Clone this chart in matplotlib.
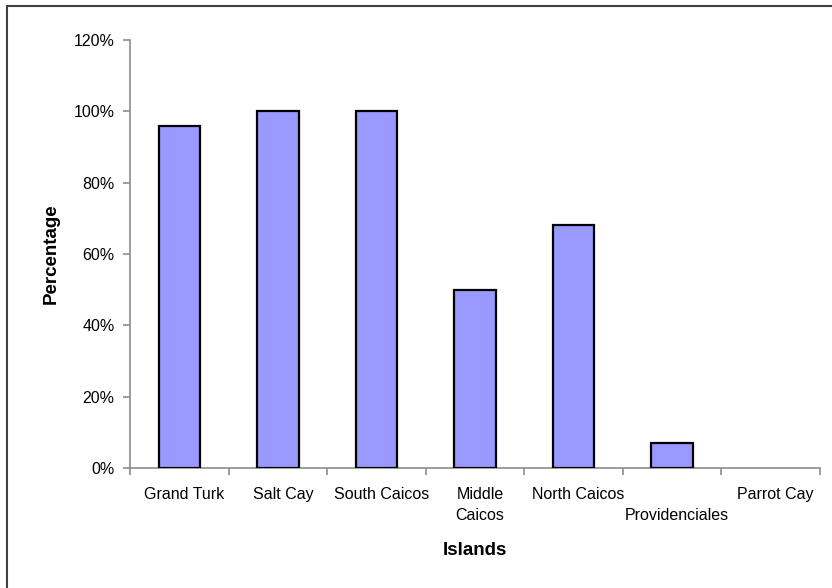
import matplotlib
matplotlib.use("Agg")
import matplotlib.pyplot as plt
from matplotlib.patches import Rectangle
from matplotlib.transforms import ScaledTranslation
import numpy as np

plt.rcParams['font.family'] = ['Liberation Sans', 'DejaVu Sans']

islands = ["Grand Turk", "Salt Cay", "South Caicos", "Middle\nCaicos",
           "North Caicos", "\nProvidenciales", "Parrot Cay"]
percentages = [0.96, 1.00, 1.00, 0.50, 0.68, 0.07, 0.0]
y_ticks = [0.0, 0.2, 0.4, 0.6, 0.8, 1.0, 1.2]
y_tick_labels = ["0%", "20%", "40%", "60%", "80%", "100%", "120%"]

fig = plt.figure(figsize=(8.32, 5.88), dpi=100)
ax = fig.add_axes([130 / 832, 1 - 468 / 588, 690 / 832, 428 / 588])

x = np.arange(len(islands))
edge_widths = [1.6 if v > 0 else 0 for v in percentages]
ax.bar(x, percentages, width=0.42, color="#9999FF", edgecolor="black",
       linewidth=edge_widths, zorder=3)

ax.set_xlim(-0.5, len(islands) - 0.5)
ax.set_ylim(0, 1.2)

gray = "#8c8c8c"
for side in ("top", "right"):
    ax.spines[side].set_visible(False)
for side in ("left", "bottom"):
    ax.spines[side].set_color(gray)
    ax.spines[side].set_linewidth(1.2)

ax.set_yticks(y_ticks)
ax.set_yticklabels(y_tick_labels, fontsize=11.5)
ax.tick_params(axis="y", direction="out", length=5, width=1.2, color=gray, pad=6)

# category boundaries carry the tick marks; labels sit at the centres
ax.set_xticks(np.arange(len(islands) + 1) - 0.5)
ax.set_xticklabels([])
ax.tick_params(axis="x", which="major", direction="out", length=5, width=1.2, color=gray)
ax.set_xticks(x, minor=True)
ax.set_xticklabels(islands, minor=True, fontsize=11.5, linespacing=1.45)
ax.tick_params(axis="x", which="minor", length=0, pad=14)

# nudge category labels slightly to the right
nudge = ScaledTranslation(5 / 100, 0, fig.dpi_scale_trans)
for lbl in ax.get_xticklabels(minor=True):
    lbl.set_transform(lbl.get_transform() + nudge)

ax.set_ylabel("Percentage", fontsize=13.5, fontweight="bold", labelpad=10)
ax.set_xlabel("Islands", fontsize=13.5, fontweight="bold", labelpad=14)

# outer frame of the chart area
fig.patches.append(Rectangle((7 / 832, -0.1), 1.2, 1.1 - 6 / 588,
                             transform=fig.transFigure, fill=False,
                             edgecolor="#404040", linewidth=1.5))

fig.savefig("out.png", dpi=100)
